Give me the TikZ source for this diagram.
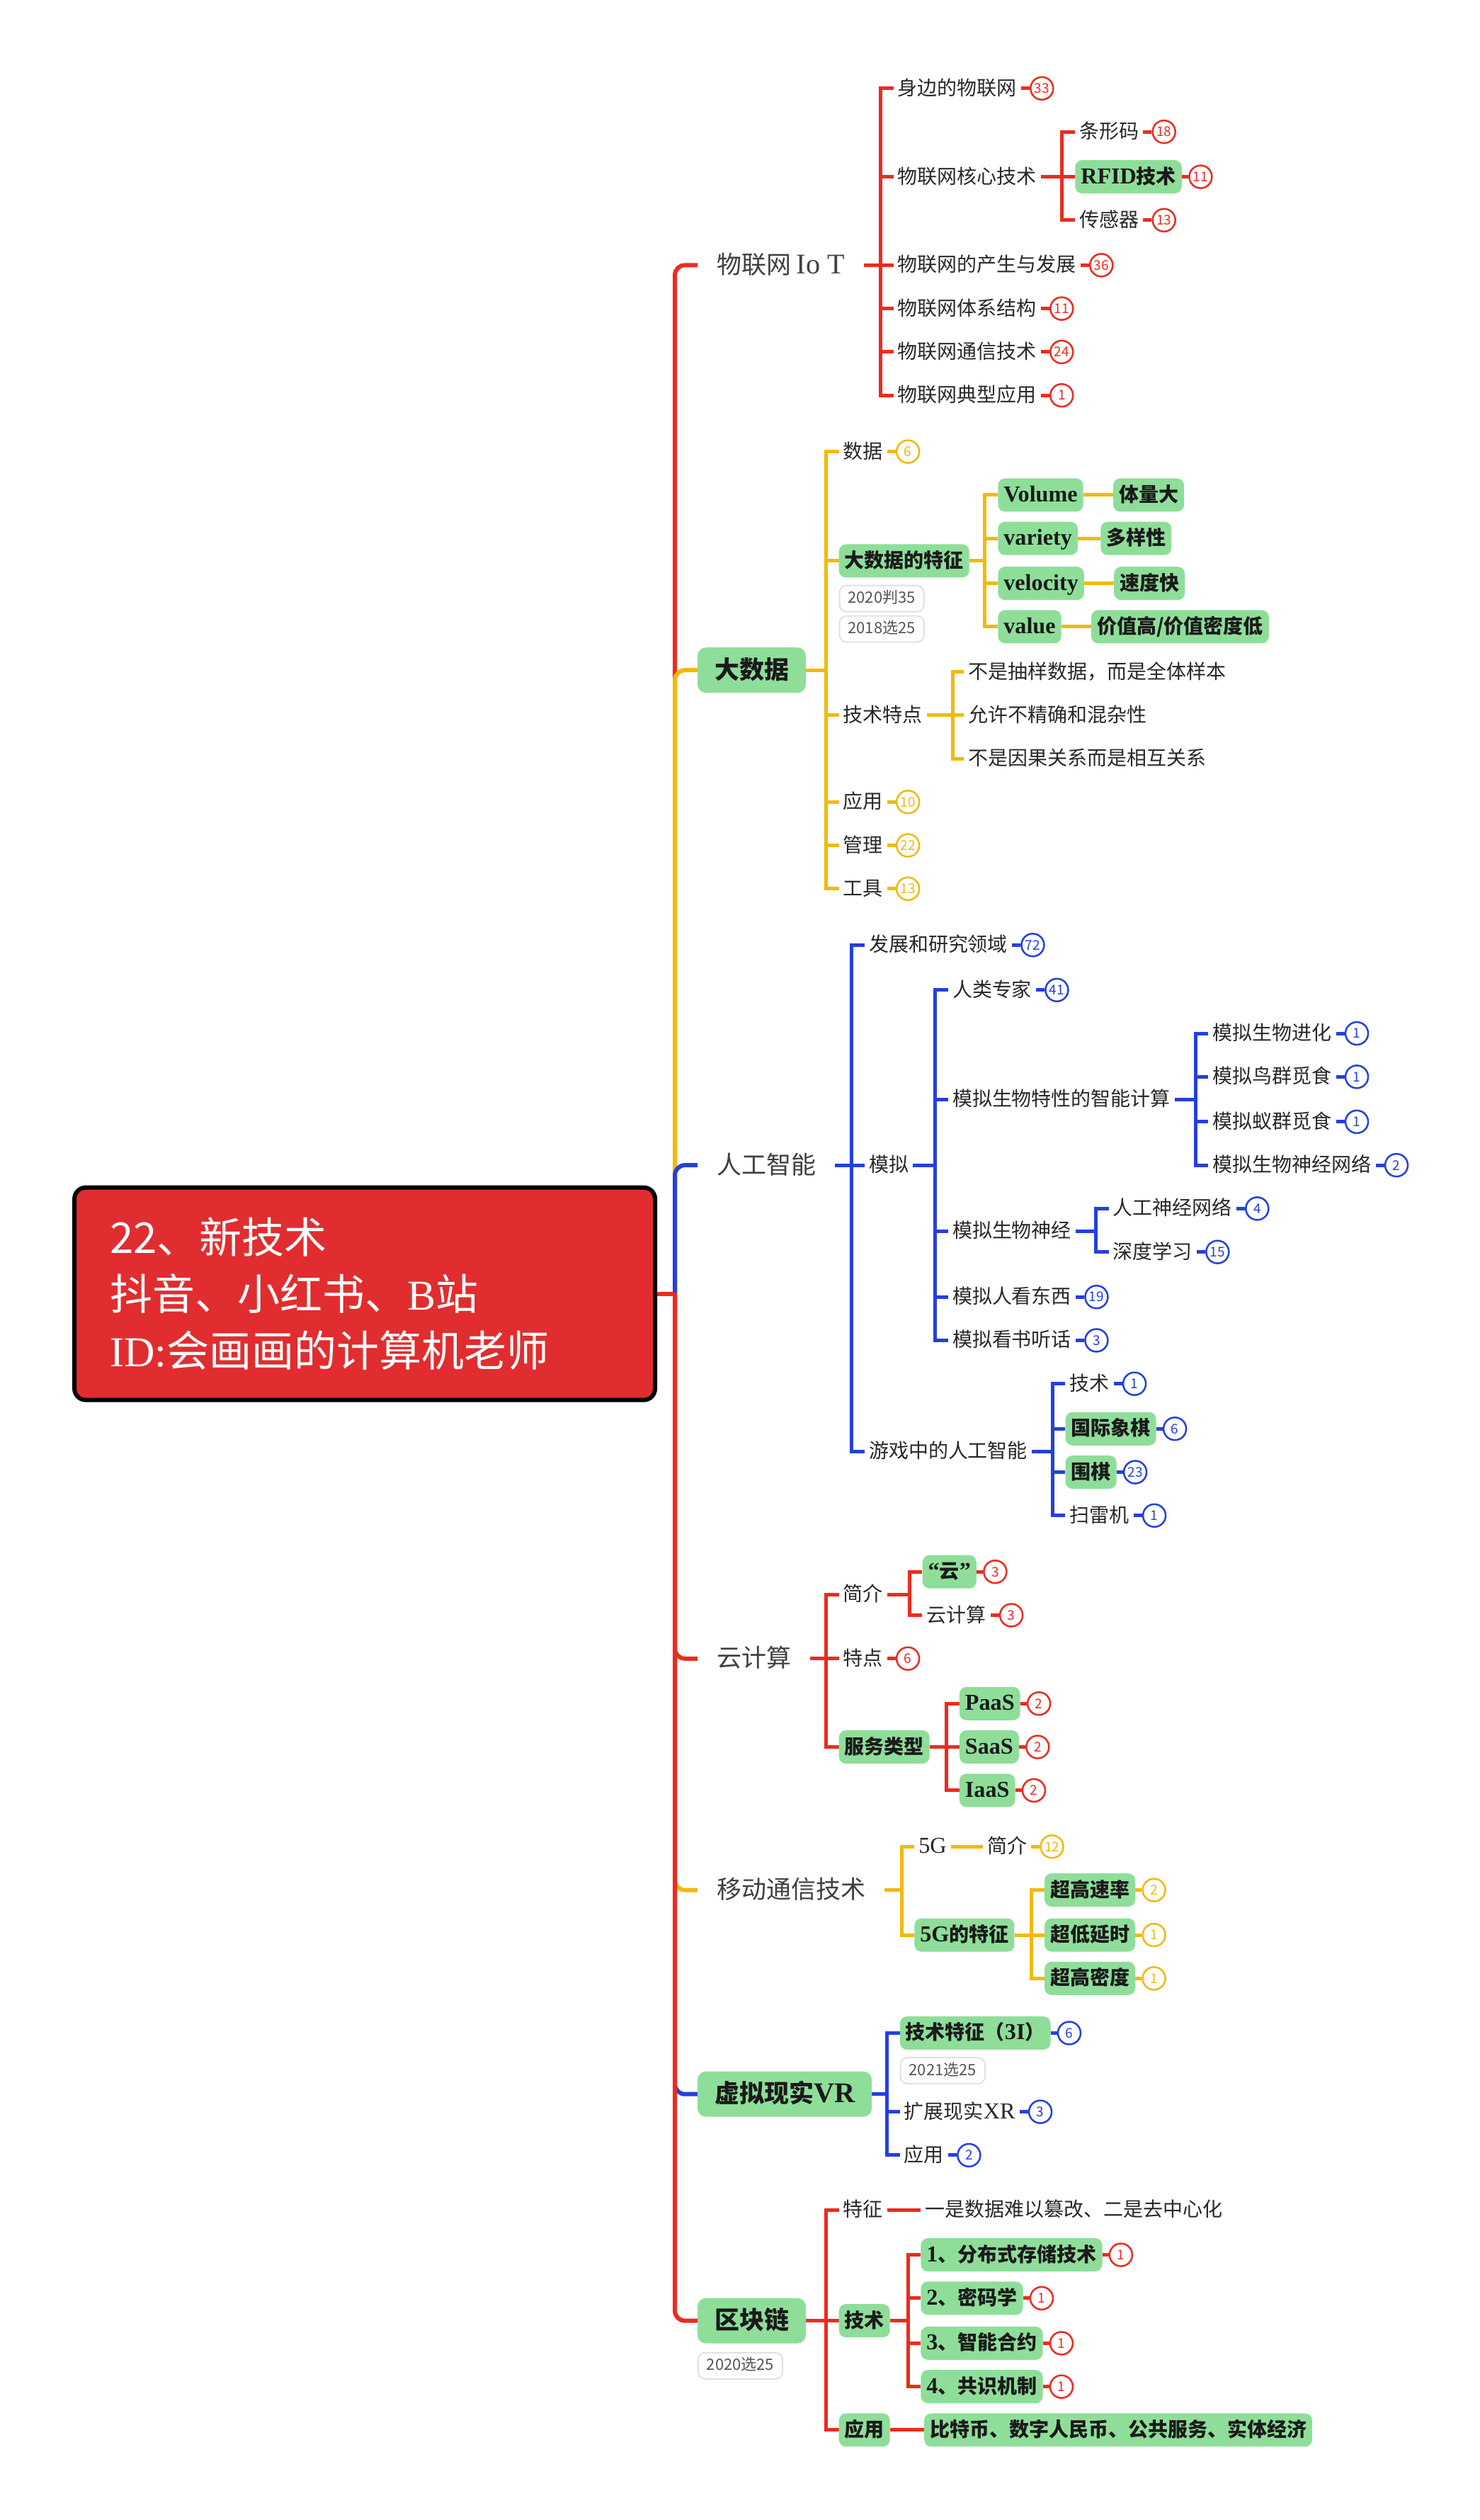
\documentclass[tikz,border=0pt]{standalone}
\usepackage{fontspec}
\setmainfont{Noto Sans CJK SC}
\newfontfamily\serifx[Scale=1.15]{Liberation Serif}
\newfontfamily\serifc{Liberation Serif}
\usetikzlibrary{positioning,backgrounds}

\definecolor{xred}{RGB}{236,43,31}
\definecolor{xyel}{RGB}{242,185,10}
\definecolor{xblue}{RGB}{36,64,220}
\definecolor{boxgreen}{RGB}{142,222,153}
\definecolor{topicred}{RGB}{225,45,47}
\definecolor{maingray}{RGB}{64,64,64}
\definecolor{subdark}{RGB}{40,40,40}
\definecolor{boxtext}{RGB}{26,26,26}
\definecolor{notegray}{RGB}{225,225,225}
\definecolor{notetext}{RGB}{85,85,85}

\begin{document}
\begin{tikzpicture}[
  x=2.2693pt, y=-2.2693pt,
  node distance=12pt,
  topic/.style={draw=black, line width=6pt, fill=topicred, rounded corners=16pt, text=white,
    font=\fontsize{60}{80}\selectfont, align=left, text width=720pt, inner xsep=50pt,
    minimum height=300pt, anchor=west},
  main/.style={anchor=west, inner xsep=27pt, text=maingray, font=\fontsize{35}{35}\selectfont,
    text height=29pt, text depth=5pt},
  mainbox/.style={main, fill=boxgreen, rounded corners=12pt, inner xsep=24pt, inner ysep=15pt,
    text=boxtext, font=\fontsize{35}{35}\selectfont\bfseries},
  sub/.style={anchor=west, inner xsep=6pt, text=subdark, font=\fontsize{28}{28}\selectfont,
    text height=23pt, text depth=4pt},
  subbox/.style={sub, fill=boxgreen, rounded corners=10pt, inner xsep=8pt, inner ysep=10pt,
    text=boxtext, font=\fontsize{28}{28}\selectfont\bfseries},
  cnt/.style={draw=#1, text=#1, fill=white, circle, line width=2.5pt, minimum size=32pt,
    inner sep=0pt, font=\fontsize{19}{19}\selectfont},
  note/.style={draw=notegray, line width=2pt, rounded corners=10pt, fill=white, text=notetext,
    font=\fontsize{22}{22}\selectfont, text height=17pt, text depth=4pt, inner xsep=12pt, inner ysep=8pt},
  rl/.style={draw=xred, line width=5pt},
  yl/.style={draw=xyel, line width=5pt},
  bl/.style={draw=xblue, line width=5pt},
  trunk/.style={line width=6pt, rounded corners=14pt}
]
\useasboundingbox (0,0) rectangle (921,1568);

% centre
\node[topic] (topic) at (45,805) {22、新技术\\抖音、小红书、{\serifc B}站\\{\serifc ID:}会画画的计算机老师};
\coordinate (trunkc) at (420,805);

% IoT
\node[main] (iot) at (434,165) {物联网 {\serifx Io T}};
\coordinate (j-iot) at (548,165);
\node[sub] (iot1) at (556,55) {身边的物联网};
\node[sub] (iot2) at (556,110) {物联网核心技术};
\node[sub] (iot3) at (556,165) {物联网的产生与发展};
\node[sub] (iot4) at (556,192) {物联网体系结构};
\node[sub] (iot5) at (556,219) {物联网通信技术};
\node[sub] (iot6) at (556,246) {物联网典型应用};
\coordinate (j-iot2) at (661,110);
\node[sub] (iot21) at (669,82) {条形码};
\node[subbox] (iot22) at (669,110) {{\serifx RFID}技术};
\node[sub] (iot23) at (669,137) {传感器};
\node[cnt=xred, right=of iot1] (iot1c) {33};
\node[cnt=xred, right=of iot3] (iot3c) {36};
\node[cnt=xred, right=of iot4] (iot4c) {11};
\node[cnt=xred, right=of iot5] (iot5c) {24};
\node[cnt=xred, right=of iot6] (iot6c) {1};
\node[cnt=xred, right=of iot21] (iot21c) {18};
\node[cnt=xred, right=9pt of iot22] (iot22c) {11};
\node[cnt=xred, right=of iot23] (iot23c) {13};

% big data
\node[mainbox] (bd) at (434,417) {大数据};
\coordinate (j-bd) at (514,417);
\node[sub] (bd1) at (522,281) {数据};
\node[subbox] (bd2) at (522,349) {大数据的特征};
\node[note, below=10pt of bd2.south west, anchor=north west] (bd2a) {2020判35};
\node[note, below=4pt of bd2a.south west, anchor=north west] (bd2b) {2018选25};
\node[sub] (bd3) at (522,445) {技术特点};
\node[sub] (bd4) at (522,499) {应用};
\node[sub] (bd5) at (522,526) {管理};
\node[sub] (bd6) at (522,553) {工具};
\coordinate (j-bd2) at (613,349);
\node[subbox] (bd21) at (621,308) {{\serifx Volume}};
\node[subbox] (bd22) at (621,335) {{\serifx variety}};
\node[subbox] (bd23) at (621,363) {{\serifx velocity}};
\node[subbox] (bd24) at (621,390) {{\serifx value}};
\node[subbox, right=42pt of bd21] (bd21a) {体量大};
\node[subbox, right=32pt of bd22] (bd22a) {多样性};
\node[subbox, right=42pt of bd23] (bd23a) {速度快};
\node[subbox, right=42pt of bd24] (bd24a) {价值高/价值密度低};
\coordinate (j-bd3) at (593,445);
\node[sub] (bd31) at (600,418) {不是抽样数据，而是全体样本};
\node[sub] (bd32) at (600,445) {允许不精确和混杂性};
\node[sub] (bd33) at (600,472) {不是因果关系而是相互关系};
\node[cnt=xyel, right=of bd1] (bd1c) {6};
\node[cnt=xyel, right=of bd4] (bd4c) {10};
\node[cnt=xyel, right=of bd5] (bd5c) {22};
\node[cnt=xyel, right=of bd6] (bd6c) {13};

% AI
\node[main] (ai) at (434,725) {人工智能};
\coordinate (j-ai) at (530,725);
\node[sub] (ai1) at (538,588) {发展和研究领域};
\node[sub] (ai2) at (538,725) {模拟};
\node[sub] (ai3) at (538,903) {游戏中的人工智能};
\coordinate (j-ai2) at (582,725);
\node[sub] (ai21) at (590,616) {人类专家};
\node[sub] (ai22) at (590,684) {模拟生物特性的智能计算};
\node[sub] (ai23) at (590,766) {模拟生物神经};
\node[sub] (ai24) at (590,807) {模拟人看东西};
\node[sub] (ai25) at (590,834) {模拟看书听话};
\coordinate (j-ai22) at (744,684);
\node[sub] (ai221) at (752,643) {模拟生物进化};
\node[sub] (ai222) at (752,670) {模拟鸟群觅食};
\node[sub] (ai223) at (752,698) {模拟蚁群觅食};
\node[sub] (ai224) at (752,725) {模拟生物神经网络};
\coordinate (j-ai23) at (682,766);
\node[sub] (ai231) at (690,752) {人工神经网络};
\node[sub] (ai232) at (690,779) {深度学习};
\coordinate (j-ai3) at (655,903);
\node[sub] (ai31) at (663,861) {技术};
\node[subbox] (ai32) at (663,889) {国际象棋};
\node[subbox] (ai33) at (663,916) {围棋};
\node[sub] (ai34) at (663,943) {扫雷机};
\node[cnt=xblue, right=of ai1] (ai1c) {72};
\node[cnt=xblue, right=of ai21] (ai21c) {41};
\node[cnt=xblue, right=of ai24] (ai24c) {19};
\node[cnt=xblue, right=of ai25] (ai25c) {3};
\node[cnt=xblue, right=of ai221] (ai221c) {1};
\node[cnt=xblue, right=of ai222] (ai222c) {1};
\node[cnt=xblue, right=of ai223] (ai223c) {1};
\node[cnt=xblue, right=of ai224] (ai224c) {2};
\node[cnt=xblue, right=of ai231] (ai231c) {4};
\node[cnt=xblue, right=of ai232] (ai232c) {15};
\node[cnt=xblue, right=of ai31] (ai31c) {1};
\node[cnt=xblue, right=9pt of ai32] (ai32c) {6};
\node[cnt=xblue, right=9pt of ai33] (ai33c) {23};
\node[cnt=xblue, right=of ai34] (ai34c) {1};

% cloud
\node[main] (cc) at (434,1032) {云计算};
\coordinate (j-cc) at (514,1032);
\node[sub] (cc1) at (522,992) {简介};
\node[sub] (cc2) at (522,1032) {特点};
\node[subbox] (cc3) at (522,1087) {服务类型};
\coordinate (j-cc1) at (566,992);
\node[subbox] (cc11) at (574,978) {{\serifx “}云{\serifx ”}};
\node[sub] (cc12) at (574,1005) {云计算};
\coordinate (j-cc3) at (589,1087);
\node[subbox] (cc31) at (597,1060) {{\serifx PaaS}};
\node[subbox] (cc32) at (597,1087) {{\serifx SaaS}};
\node[subbox] (cc33) at (597,1114) {{\serifx IaaS}};
\node[cnt=xred, right=9pt of cc11] (cc11c) {3};
\node[cnt=xred, right=of cc12] (cc12c) {3};
\node[cnt=xred, right=of cc2] (cc2c) {6};
\node[cnt=xred, right=9pt of cc31] (cc31c) {2};
\node[cnt=xred, right=9pt of cc32] (cc32c) {2};
\node[cnt=xred, right=9pt of cc33] (cc33c) {2};

% mobile
\node[main] (mc) at (434,1176) {移动通信技术};
\coordinate (j-mc) at (561,1176);
\node[sub] (mc1) at (569,1149) {{\serifx 5G}};
\node[sub, right=45pt of mc1] (mc1a) {简介};
\node[subbox] (mc2) at (569,1204) {{\serifx 5G}的特征};
\coordinate (j-mc2) at (642,1204);
\node[subbox] (mc21) at (650,1176) {超高速率};
\node[subbox] (mc22) at (650,1204) {超低延时};
\node[subbox] (mc23) at (650,1231) {超高密度};
\node[cnt=xyel, right=of mc1a] (mc1ac) {12};
\node[cnt=xyel, right=9pt of mc21] (mc21c) {2};
\node[cnt=xyel, right=9pt of mc22] (mc22c) {1};
\node[cnt=xyel, right=9pt of mc23] (mc23c) {1};

% VR
\node[mainbox] (vr) at (434,1303) {虚拟现实{\serifx VR}};
\coordinate (j-vr) at (552,1303);
\node[subbox] (vr1) at (560,1265) {技术特征（{\serifx 3I}）};
\node[note, below=10pt of vr1.south west, anchor=north west] (vr1a) {2021选25};
\node[sub] (vr2) at (560,1314) {扩展现实{\serifx XR}};
\node[sub] (vr3) at (560,1341) {应用};
\node[cnt=xblue, right=9pt of vr1] (vr1c) {6};
\node[cnt=xblue, right=of vr2] (vr2c) {3};
\node[cnt=xblue, right=of vr3] (vr3c) {2};

% blockchain
\node[mainbox] (bc) at (434,1444) {区块链};
\node[note, below=12pt of bc.south west, anchor=north west] (bca) {2020选25};
\coordinate (j-bc) at (514,1444);
\node[sub] (bc1) at (522,1375) {特征};
\node[sub, right=47pt of bc1] (bc1a) {一是数据难以篡改、二是去中心化};
\node[subbox] (bc2) at (522,1444) {技术};
\node[subbox] (bc3) at (522,1512) {应用};
\node[subbox, right=48pt of bc3] (bc3a) {比特币、数字人民币、公共服务、实体经济};
\coordinate (j-bc2) at (565,1444);
\node[subbox] (bc21) at (573,1403) {{\serifx 1}、分布式存储技术};
\node[subbox] (bc22) at (573,1430) {{\serifx 2}、密码学};
\node[subbox] (bc23) at (573,1458) {{\serifx 3}、智能合约};
\node[subbox] (bc24) at (573,1485) {{\serifx 4}、共识机制};
\node[cnt=xred, right=9pt of bc21] (bc21c) {1};
\node[cnt=xred, right=9pt of bc22] (bc22c) {1};
\node[cnt=xred, right=9pt of bc23] (bc23c) {1};
\node[cnt=xred, right=9pt of bc24] (bc24c) {1};

\begin{scope}[on background layer]
\fill[white] (0,0) rectangle (921,1568);
% trunk
\draw[rl, trunk] (trunkc) |- (iot.west);
\draw[yl, trunk] (trunkc) |- (bd.west);
\draw[bl, trunk] (trunkc) |- (ai.west);
\draw[rl, trunk] (trunkc) |- (cc.west);
\draw[yl, trunk] (trunkc) |- (mc.west);
\draw[bl, trunk] (trunkc) |- (vr.west);
\draw[rl, trunk] (trunkc) |- (bc.west);
\draw[rl, trunk] (topic.east) -- (trunkc);

% IoT
\foreach \k in {iot1,iot2,iot4,iot5,iot6} \draw[rl] (iot.east) -- (j-iot) |- (\k.west);
\draw[rl] (iot.east) -- (iot3.west);
\foreach \k in {iot21,iot23} \draw[rl] (iot2.east) -- (j-iot2) |- (\k.west);
\draw[rl] (iot2.east) -- (iot22.west);
\foreach \k in {iot1,iot3,iot4,iot5,iot6,iot21,iot22,iot23} \draw[rl] (\k) -- (\k c);

% big data
\foreach \k in {bd1,bd2,bd3,bd4,bd5,bd6} \draw[yl] (bd.east) -- (j-bd) |- (\k.west);
\foreach \k in {bd21,bd22,bd23,bd24} {
  \draw[yl] (bd2.east) -- (j-bd2) |- (\k.west);
  \draw[yl] (\k) -- (\k a);
}
\foreach \k in {bd31,bd33} \draw[yl] (bd3.east) -- (j-bd3) |- (\k.west);
\draw[yl] (bd3.east) -- (bd32.west);
\foreach \k in {bd1,bd4,bd5,bd6} \draw[yl] (\k) -- (\k c);

% AI
\foreach \k in {ai1,ai3} \draw[bl] (ai.east) -- (j-ai) |- (\k.west);
\draw[bl] (ai.east) -- (ai2.west);
\foreach \k in {ai21,ai22,ai23,ai24,ai25} \draw[bl] (ai2.east) -- (j-ai2) |- (\k.west);
\foreach \k in {ai221,ai222,ai223,ai224} \draw[bl] (ai22.east) -- (j-ai22) |- (\k.west);
\foreach \k in {ai231,ai232} \draw[bl] (ai23.east) -- (j-ai23) |- (\k.west);
\foreach \k in {ai31,ai32,ai33,ai34} \draw[bl] (ai3.east) -- (j-ai3) |- (\k.west);
\foreach \k in {ai1,ai21,ai24,ai25,ai221,ai222,ai223,ai224,ai231,ai232,ai31,ai32,ai33,ai34}
  \draw[bl] (\k) -- (\k c);

% cloud
\foreach \k in {cc1,cc3} \draw[rl] (cc.east) -- (j-cc) |- (\k.west);
\draw[rl] (cc.east) -- (cc2.west);
\foreach \k in {cc11,cc12} \draw[rl] (cc1.east) -- (j-cc1) |- (\k.west);
\foreach \k in {cc31,cc33} \draw[rl] (cc3.east) -- (j-cc3) |- (\k.west);
\draw[rl] (cc3.east) -- (cc32.west);
\foreach \k in {cc11,cc12,cc2,cc31,cc32,cc33} \draw[rl] (\k) -- (\k c);

% mobile
\foreach \k in {mc1,mc2} \draw[yl] (mc.east) -- (j-mc) |- (\k.west);
\draw[yl] (mc1) -- (mc1a);
\foreach \k in {mc21,mc23} \draw[yl] (mc2.east) -- (j-mc2) |- (\k.west);
\draw[yl] (mc2.east) -- (mc22.west);
\foreach \k in {mc1a,mc21,mc22,mc23} \draw[yl] (\k) -- (\k c);

% VR
\foreach \k in {vr1,vr2,vr3} \draw[bl] (vr.east) -- (j-vr) |- (\k.west);
\foreach \k in {vr1,vr2,vr3} \draw[bl] (\k) -- (\k c);

% blockchain
\foreach \k in {bc1,bc3} \draw[rl] (bc.east) -- (j-bc) |- (\k.west);
\draw[rl] (bc.east) -- (bc2.west);
\draw[rl] (bc1) -- (bc1a);
\draw[rl] (bc3) -- (bc3a);
\foreach \k in {bc21,bc22,bc23,bc24} {
  \draw[rl] (bc2.east) -- (j-bc2) |- (\k.west);
  \draw[rl] (\k) -- (\k c);
}
\end{scope}
\end{tikzpicture}
\end{document}
